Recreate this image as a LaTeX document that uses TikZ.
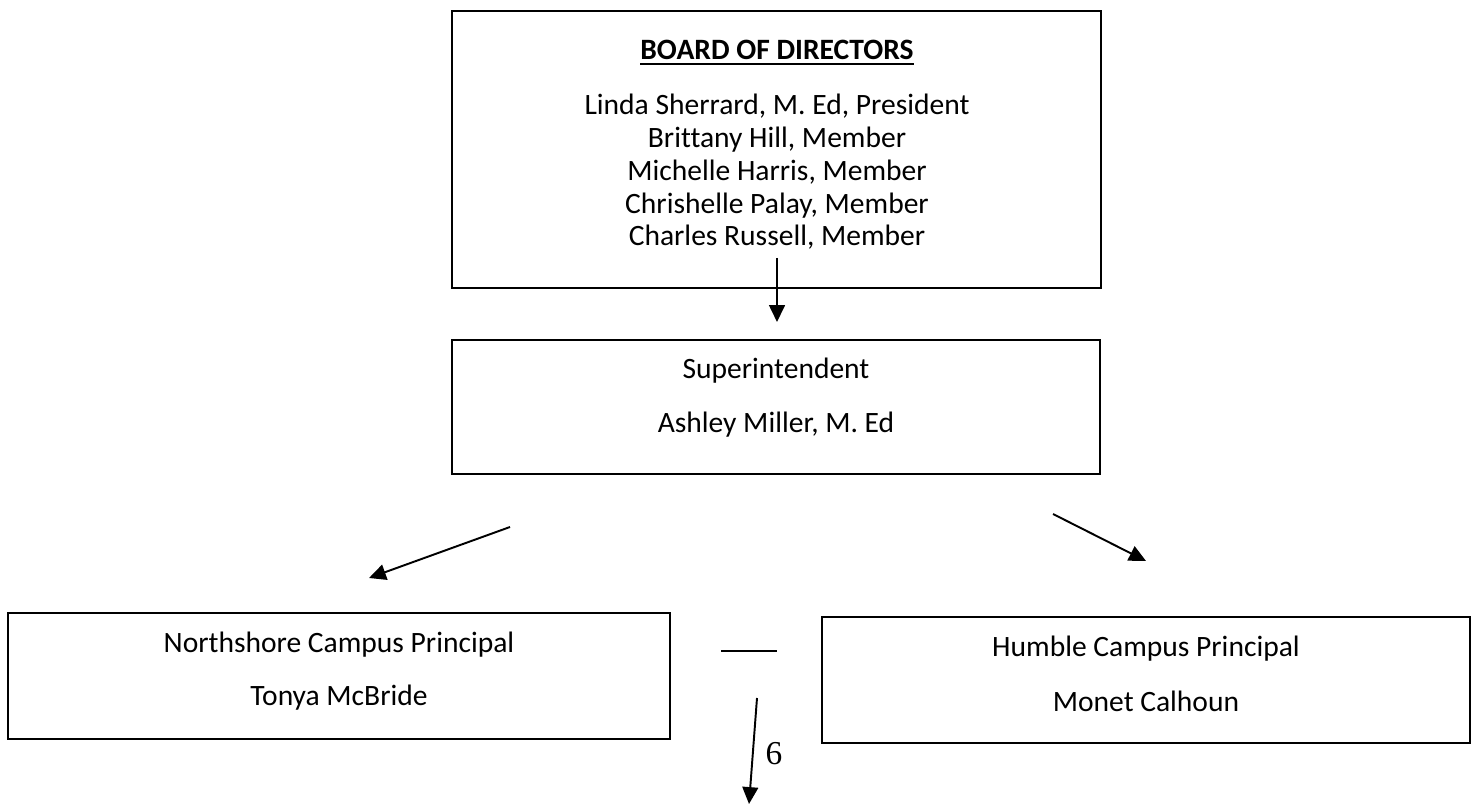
\documentclass[tikz,border=0pt]{standalone}
\usepackage{fontspec}
\setmainfont{Carlito}[Ligatures=NoCommon]
\newfontfamily\numfont{Liberation Serif}
\usetikzlibrary{arrows.meta}

\tikzset{
  box/.style={draw, line width=0.6pt, rectangle, outer sep=0pt, inner sep=0pt, anchor=north west},
  boxtext/.style={font=\fontsize{8.4}{9.3}\selectfont, inner sep=0pt, align=center},
  link/.style={line width=0.55pt, -{Triangle[length=4.8pt,width=4.5pt]}}
}

\begin{document}
\begin{tikzpicture}[x=0.01cm, y=-0.01cm]
            \useasboundingbox (0,0) rectangle (1473,804);
            % boxes
            \node [box, minimum width=6.49cm, minimum height=2.77cm] (board) at (452,11) {};
            \node [box, minimum width=6.48cm, minimum height=1.34cm] (super) at (452,340) {};
            \node [box, minimum width=6.62cm, minimum height=1.26cm] (north) at (8,613) {};
            \node [box, minimum width=6.48cm, minimum height=1.26cm] (humble) at (822,617) {};
            % texts
            \node [boxtext] (boardhead) at (777,53) {\textbf{\underline{BOARD OF DIRECTORS}}};
            \node [boxtext] (members) at (777,172) {Linda Sherrard, M. Ed, President\\Brittany Hill, Member\\Michelle Harris, Member\\Chrishelle Palay, Member\\Charles Russell, Member};
            \node [boxtext] (supertitle) at (776,371) {Superintendent};
            \node [boxtext] (supername) at (776,425) {Ashley Miller, M. Ed};
            \node [boxtext] (northtitle) at (339,645) {Northshore Campus Principal};
            \node [boxtext] (northname) at (339,698) {Tonya McBride};
            \node [boxtext] (humbletitle) at (1146,649) {Humble Campus Principal};
            \node [boxtext] (humblename) at (1146,701) {Monet Calhoun};
            \node [font=\numfont\fontsize{9.5}{10}\selectfont, inner sep=0pt] (pagenum) at (774,754) {6};
            % arrow ends
            \coordinate (a1) at (777,258);
            \coordinate (a2) at (777,322);
            \coordinate (b1) at (510,527);
            \coordinate (b2) at (369,578);
            \coordinate (c1) at (1053,514);
            \coordinate (c2) at (1146,561);
            \coordinate (d1) at (721,651);
            \coordinate (d2) at (777,651);
            \coordinate (e1) at (757,698);
            \coordinate (e2) at (749,804);
            \draw [link] (a1) -- (a2);
            \draw [link] (b1) -- (b2);
            \draw [link] (c1) -- (c2);
            \draw [line width=0.55pt] (d1) -- (d2);
            \draw [link] (e1) -- (e2);
        \end{tikzpicture}
\end{document}
